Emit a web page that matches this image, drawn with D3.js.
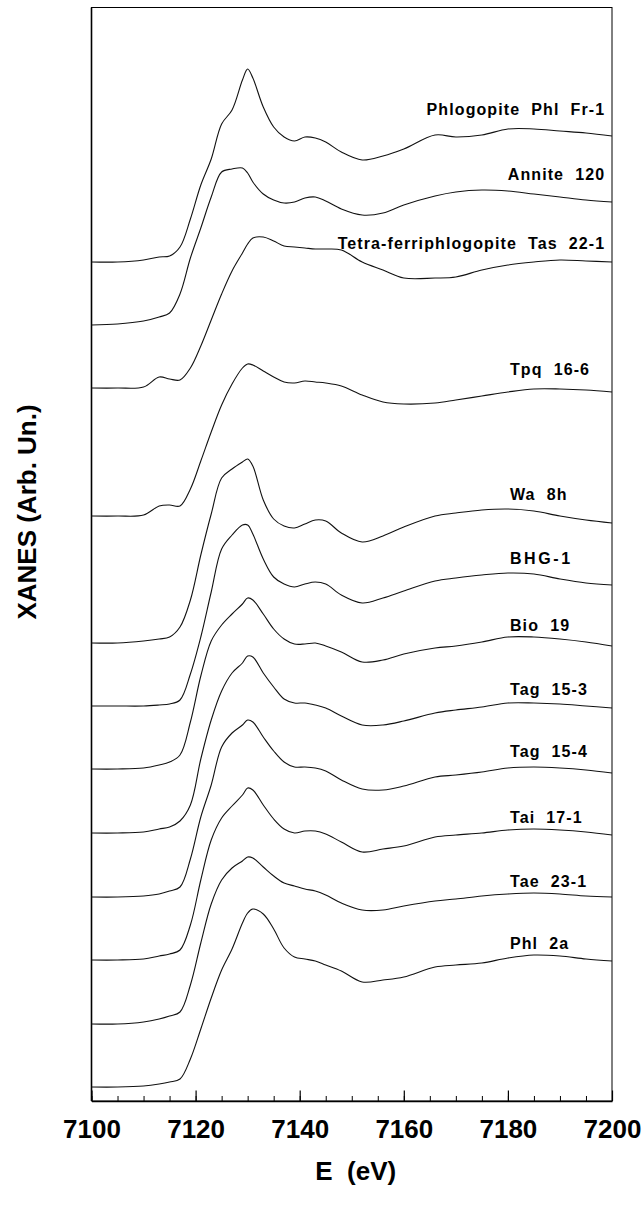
<!DOCTYPE html>
<html>
<head>
<meta charset="utf-8">
<script src="https://cdn.jsdelivr.net/npm/d3@7"></script>
<style>
  body { margin: 0; background: #fff; }
  text { font-family: "Liberation Sans", Arial, sans-serif; font-weight: bold; }
</style>
</head>
<body>
<script>
// energia dei punti letti (eV), comune a tutti gli spettri
const energies = [7100, 7105, 7110, 7113, 7115, 7117, 7119, 7121, 7123, 7125, 7127, 7129, 7130, 7131,
  7133, 7135, 7137, 7139, 7141, 7143, 7145, 7148, 7152, 7156, 7160, 7166, 7170, 7175, 7180, 7185,
  7190, 7195, 7200];

const samples = ["Phlogopite  Phl  Fr-1", "Annite  120", "Tetra-ferriphlogopite  Tas  22-1", "Tpq  16-6",
  "Wa  8h", "BHG-1", "Bio  19", "Tag  15-3", "Tag  15-4", "Tai  17-1", "Tae  23-1", "Phl  2a"];

// spostamento verticale di ogni spettro (arb. un.)
const offsets = [8.39, 7.76, 7.13, 5.85, 4.58, 3.95, 3.32, 2.68, 2.04, 1.41, 0.77, 0.14];

// XANES normalizzati (arb. un.)
const phlFr1 = [0, 0.00, 0.02, 0.05, 0.06, 0.15, 0.43, 0.77, 1.03, 1.38, 1.52, 1.82, 1.93, 1.84, 1.55, 1.35,
  1.25, 1.21, 1.25, 1.24, 1.20, 1.10, 1.02, 1.06, 1.13, 1.27, 1.25, 1.27, 1.33, 1.33, 1.31, 1.29, 1.26];
const annite120 = [0, 0.01, 0.04, 0.08, 0.12, 0.31, 0.67, 0.97, 1.28, 1.53, 1.56, 1.57, 1.52, 1.43, 1.31,
  1.25, 1.22, 1.23, 1.27, 1.28, 1.24, 1.16, 1.10, 1.12, 1.20, 1.29, 1.33, 1.35, 1.34, 1.31, 1.28, 1.25, 1.23];
const tas221 = [0, 0.00, 0.01, 0.11, 0.09, 0.08, 0.20, 0.42, 0.68, 0.94, 1.17, 1.35, 1.44, 1.50, 1.51, 1.47,
  1.42, 1.41, 1.40, 1.39, 1.39, 1.38, 1.26, 1.18, 1.10, 1.10, 1.11, 1.18, 1.23, 1.26, 1.28, 1.27, 1.26];
const tpq166 = [0, 0.00, 0.01, 0.10, 0.11, 0.10, 0.27, 0.55, 0.84, 1.11, 1.32, 1.48, 1.52, 1.51, 1.45, 1.39,
  1.34, 1.33, 1.35, 1.34, 1.33, 1.30, 1.21, 1.14, 1.12, 1.13, 1.16, 1.20, 1.24, 1.27, 1.27, 1.26, 1.24];
const wa8h = [0, 0.00, 0.02, 0.04, 0.06, 0.16, 0.43, 0.88, 1.29, 1.65, 1.74, 1.81, 1.84, 1.77, 1.43, 1.24,
  1.17, 1.15, 1.19, 1.23, 1.22, 1.10, 1.01, 1.07, 1.16, 1.27, 1.30, 1.33, 1.34, 1.32, 1.27, 1.23, 1.20];
const bhg1 = [0, 0.00, 0.00, 0.01, 0.02, 0.06, 0.32, 0.69, 1.14, 1.57, 1.71, 1.81, 1.81, 1.72, 1.47, 1.29,
  1.22, 1.19, 1.22, 1.24, 1.22, 1.11, 1.03, 1.08, 1.15, 1.25, 1.28, 1.31, 1.33, 1.32, 1.27, 1.23, 1.21];
const bio19 = [0, 0.00, 0.01, 0.04, 0.07, 0.14, 0.47, 0.93, 1.28, 1.44, 1.55, 1.65, 1.71, 1.69, 1.55, 1.40,
  1.30, 1.25, 1.25, 1.26, 1.23, 1.17, 1.07, 1.09, 1.15, 1.21, 1.23, 1.27, 1.32, 1.32, 1.30, 1.27, 1.23];
const tag153 = [0, 0.00, 0.01, 0.04, 0.06, 0.12, 0.28, 0.74, 1.13, 1.42, 1.60, 1.70, 1.77, 1.76, 1.60, 1.46,
  1.34, 1.30, 1.30, 1.28, 1.25, 1.17, 1.08, 1.08, 1.12, 1.20, 1.23, 1.26, 1.30, 1.30, 1.29, 1.27, 1.25];
const tag154 = [0, 0.00, 0.01, 0.03, 0.06, 0.10, 0.38, 0.80, 1.12, 1.50, 1.64, 1.72, 1.77, 1.75, 1.60, 1.46,
  1.35, 1.30, 1.30, 1.29, 1.26, 1.17, 1.08, 1.07, 1.11, 1.20, 1.22, 1.25, 1.29, 1.30, 1.29, 1.27, 1.24];
const tai171 = [0, 0.00, 0.01, 0.04, 0.06, 0.10, 0.35, 0.80, 1.20, 1.42, 1.54, 1.65, 1.72, 1.70, 1.55, 1.41,
  1.31, 1.27, 1.29, 1.29, 1.26, 1.18, 1.08, 1.11, 1.14, 1.23, 1.25, 1.27, 1.30, 1.31, 1.30, 1.28, 1.25];
const tae231 = [0, 0.00, 0.02, 0.05, 0.08, 0.12, 0.39, 0.81, 1.20, 1.44, 1.56, 1.63, 1.67, 1.66, 1.57, 1.48,
  1.41, 1.38, 1.35, 1.33, 1.29, 1.21, 1.14, 1.14, 1.18, 1.23, 1.25, 1.28, 1.30, 1.31, 1.30, 1.28, 1.27];
const phl2a = [0, 0.00, 0.01, 0.03, 0.05, 0.08, 0.28, 0.58, 0.89, 1.17, 1.38, 1.64, 1.74, 1.78, 1.73, 1.58,
  1.39, 1.30, 1.28, 1.26, 1.22, 1.16, 1.05, 1.07, 1.10, 1.20, 1.22, 1.24, 1.29, 1.32, 1.31, 1.28, 1.26];

const series = [phlFr1, annite120, tas221, tpq166, wa8h, bhg1, bio19, tag153, tag154, tai171, tae231, phl2a];

const majorTicks = [7100, 7120, 7140, 7160, 7180, 7200];

// dove scrivere i nomi (layout, non dati)
const labelE = [7198.7, 7198.7, 7198.7, 7180.4, 7180.4, 7180.4, 7180.4, 7180.4, 7180.4, 7180.4, 7180.4, 7180.4];
const labelY = [9.86, 9.21, 8.52, 7.26, 6.01, 5.37, 4.70, 4.06, 3.44, 2.78, 2.14, 1.52];

const W = 642, H = 1211;
const margin = { top: 7.5, right: 30, bottom: 110, left: 91.5 };
const width = W - margin.left - margin.right;
const height = H - margin.top - margin.bottom;

const svg = d3.select("body").append("svg").attr("width", W).attr("height", H);
const g = svg.append("g").attr("transform", `translate(${margin.left},${margin.top})`);

const x = d3.scaleLinear().domain([7100, 7200]).range([0, width]);
const y = d3.scaleLinear().domain([0, height / 100]).range([height, 0]);

// cornice
g.append("rect").attr("width", width).attr("height", height)
  .attr("fill", "none").attr("stroke", "#000").attr("stroke-width", 1);
g.append("line").attr("x1", 0).attr("x2", 0).attr("y1", 0).attr("y2", height)
  .attr("stroke", "#000").attr("stroke-width", 1.6);

// tacche minori
g.append("g")
  .attr("transform", `translate(0,${height})`)
  .call(d3.axisBottom(x).tickValues(d3.range(7100, 7201, 5)).tickSize(-5).tickSizeOuter(0).tickFormat(""))
  .call((a) => a.select(".domain").remove())
  .selectAll("line").attr("stroke", "#000");

// tacche maggiori + etichette
const xAxis = g.append("g")
  .attr("transform", `translate(0,${height})`)
  .call(d3.axisBottom(x).tickValues(majorTicks).tickSize(-10.5).tickSizeOuter(0).tickFormat(d3.format("d")));
xAxis.select(".domain").attr("stroke", "#000").attr("stroke-width", 1.6);
xAxis.selectAll("line").attr("stroke", "#000").attr("stroke-width", 1.2);
xAxis.selectAll("text")
  .attr("y", 37).attr("dy", 0)
  .attr("fill", "#000")
  .style("font-size", "26px")
  .style("font-family", '"Liberation Sans", Arial, sans-serif')
  .style("font-weight", "bold");

// spettri
const line = d3.line().x((d) => x(d[0])).y((d) => y(d[1])).curve(d3.curveCatmullRom.alpha(0.5));

series.forEach((vals, i) => {
  const pts = energies.map((e, j) => [e, offsets[i] + vals[j]]);
  g.append("path")
    .datum(pts)
    .attr("fill", "none")
    .attr("stroke", "#111")
    .attr("stroke-width", 1.1)
    .attr("d", line);

  g.append("text")
    .attr("x", x(labelE[i]))
    .attr("y", y(labelY[i]))
    .attr("text-anchor", i < 3 ? "end" : "start")
    .style("white-space", "pre")
    .style("font-size", "16px")
    .style("letter-spacing", samples[i] === "BHG-1" ? "2.6px" : "1.1px")
    .attr("fill", "#000")
    .text(samples[i]);
});

// titoli degli assi
svg.append("text")
  .attr("x", margin.left + width / 2 + 4)
  .attr("y", 1180)
  .attr("text-anchor", "middle")
  .style("white-space", "pre")
  .style("font-size", "26px")
  .text("E  (eV)");

svg.append("text")
  .attr("transform", "translate(36,512) rotate(-90)")
  .attr("text-anchor", "middle")
  .style("font-size", "26px")
  .text("XANES (Arb. Un.)");
</script>
</body>
</html>
